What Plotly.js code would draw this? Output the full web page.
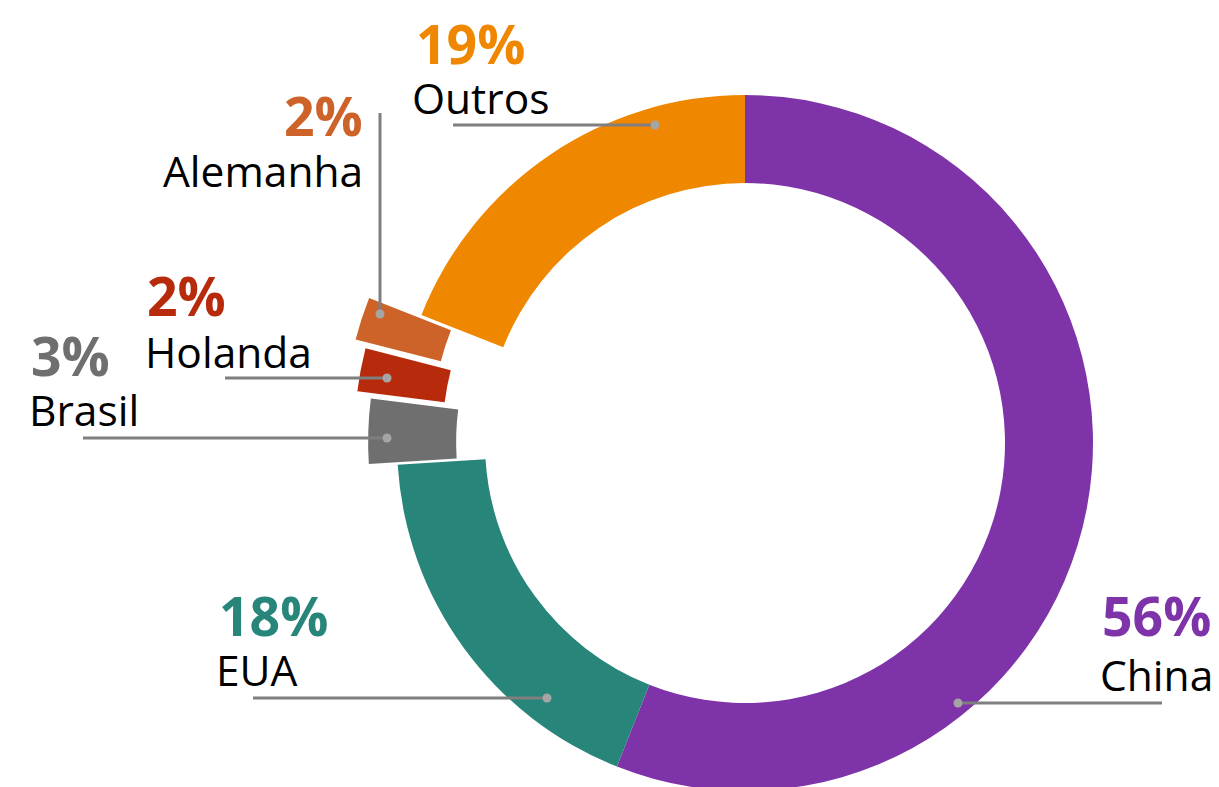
<!DOCTYPE html>
<html>
<head>
<meta charset="utf-8">
<script src="https://cdn.plot.ly/plotly-3.0.1.min.js"></script>
<style>
  html, body { margin: 0; padding: 0; overflow: hidden; background: #fff; }
  #chart { width: 1219px; height: 850px; }
</style>
</head>
<body>
<div id="chart"></div>
<script>
// ---- data ----
const countries = ["China", "EUA", "Brasil", "Holanda", "Alemanha", "Outros"];
const shares = [56, 18, 3, 2, 2, 19];
const pctLabels = ["56%", "18%", "3%", "2%", "2%", "19%"];

// ---- style / layout ----
const colors = ["#7E33A9", "#288579", "#6F6F6F", "#B72B0C", "#CD6329", "#F08700"];
const pctColors = ["#7E33A9", "#288579", "#6F6F6F", "#B72B0C", "#CD6329", "#F08700"];
const pulls = [0, 0, 0.083, 0.124, 0.158, 0];

const W = 1219, H = 850;
const CX = 745, CY = 443, R = 348;      // pie centre and radius in px
const maxPull = Math.max(...pulls);
const half = R * (1 + maxPull);

// label placement (px): pct text pos, name text pos, anchor, leader line
const labelCfg = [
  {anchor: "left",  px: 1100, pb: 635, nx: 1098, nb: 690, line: [[1162, 703], [958, 703]]},
  {anchor: "left",  px: 217,  pb: 635, nx: 214,  nb: 685, line: [[253, 698], [547, 698]]},
  {anchor: "left",  px: 29,   pb: 375, nx: 27,   nb: 425, line: [[83, 438], [387, 438]]},
  {anchor: "left",  px: 145,  pb: 315, nx: 143,  nb: 367, line: [[225, 378], [387, 378]]},
  {anchor: "right", px: 365,  pb: 135, nx: 365,  nb: 186, line: [[380, 113], [380, 314]]},
  {anchor: "left",  px: 414,  pb: 63,  nx: 410,  nb: 113, line: [[453, 125], [655, 125]]}
];
const pctSize = 53.5, nameSize = 42.5;
const fx = x => x / W, fy = y => 1 - y / H;

const annotations = [];
const shapes = [];
labelCfg.forEach((c, i) => {
  annotations.push({
    xref: "paper", yref: "paper", x: fx(c.px), y: fy(c.pb - 0.37 * pctSize),
    xanchor: c.anchor, yanchor: "middle", showarrow: false,
    text: "<b>" + pctLabels[i] + "</b>",
    font: {family: "Open Sans", size: pctSize, color: pctColors[i]}
  });
  annotations.push({
    xref: "paper", yref: "paper", x: fx(c.nx), y: fy(c.nb - 0.37 * nameSize),
    xanchor: c.anchor, yanchor: "middle", showarrow: false,
    text: countries[i],
    font: {family: "Open Sans", size: nameSize, color: "#000"}
  });
  const [a, b] = c.line;
  shapes.push({type: "line", xref: "paper", yref: "paper",
    x0: fx(a[0]), y0: fy(a[1]), x1: fx(b[0]), y1: fy(b[1]),
    line: {color: "#7F7F7F", width: 3}, layer: "above"});
  const rr = 4.5;
  shapes.push({type: "circle", xref: "paper", yref: "paper",
    x0: fx(b[0] - rr), x1: fx(b[0] + rr), y0: fy(b[1] + rr), y1: fy(b[1] - rr),
    fillcolor: "#A5A5A5", line: {width: 0}, layer: "above"});
});

const trace = {
  type: "pie",
  labels: countries,
  values: shares,
  marker: {colors: colors, line: {width: 0}},
  pull: pulls,
  hole: 260 / 348,
  sort: false,
  direction: "clockwise",
  rotation: 0,
  textinfo: "none",
  hoverinfo: "none",
  showlegend: false,
  domain: {
    x: [fx(CX - half), fx(CX + half)],
    y: [fy(CY + half), fy(CY - half)]
  }
};

const layout = {
  width: W, height: H,
  margin: {l: 0, r: 0, t: 0, b: 0},
  paper_bgcolor: "#fff",
  showlegend: false,
  annotations: annotations,
  shapes: shapes
};

Plotly.newPlot("chart", [trace], layout, {displayModeBar: false, staticPlot: true});
</script>
</body>
</html>
